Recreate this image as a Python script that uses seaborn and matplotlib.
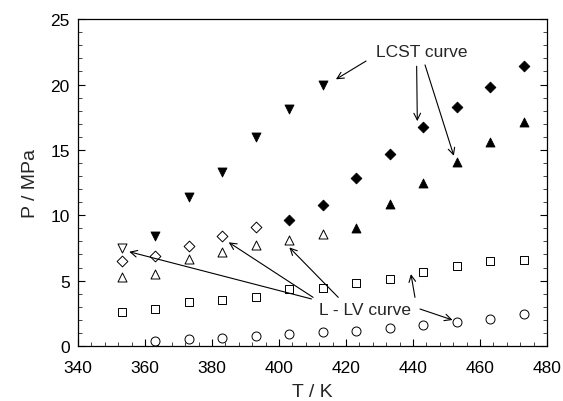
import matplotlib
matplotlib.use("Agg")
import matplotlib.pyplot as plt
import seaborn as sns
import pandas as pd
from matplotlib.ticker import MultipleLocator

sns.set_theme(style="ticks")
plt.rcParams['font.family'] = ['Liberation Sans', 'DejaVu Sans']

# LCST curves (filled markers)
lcst_down_T = [363, 373, 383, 393, 403, 413]
lcst_down_P = [8.45, 11.4, 13.3, 15.95, 18.1, 19.95]
lcst_diam_T = [403, 413, 423, 433, 443, 453, 463, 473]
lcst_diam_P = [9.66, 10.75, 12.85, 14.72, 16.77, 18.32, 19.85, 21.45]
lcst_up_T = [423, 433, 443, 453, 463, 473]
lcst_up_P = [9.02, 10.86, 12.44, 14.1, 15.57, 17.15]

# L-LV curves (open markers)
llv_down_T = [353]
llv_down_P = [7.47]
llv_diam_T = [353, 363, 373, 383, 393]
llv_diam_P = [6.47, 6.86, 7.67, 8.41, 9.07]
llv_up_T = [353, 363, 373, 383, 393, 403, 413]
llv_up_P = [5.3, 5.5, 6.65, 7.16, 7.72, 8.13, 8.56]
llv_sq_T = [353, 363, 373, 383, 393, 403, 413, 423, 433, 443, 453, 463, 473]
llv_sq_P = [2.62, 2.83, 3.39, 3.52, 3.72, 4.36, 4.43, 4.82, 5.12, 5.68, 6.09, 6.52, 6.55]
llv_circ_T = [363, 373, 383, 393, 403, 413, 423, 433, 443, 453, 463, 473]
llv_circ_P = [0.4, 0.54, 0.61, 0.79, 0.92, 1.05, 1.17, 1.35, 1.63, 1.81, 2.06, 2.45]

fig = plt.figure(figsize=(5.63, 4.02), dpi=100)
ax = fig.add_axes([0.1385, 0.1368, 0.833, 0.813])

series = [
    (lcst_down_T, lcst_down_P, "v", True, 42),
    (lcst_diam_T, lcst_diam_P, "D", True, 30),
    (lcst_up_T, lcst_up_P, "^", True, 42),
    (llv_down_T, llv_down_P, "v", False, 42),
    (llv_diam_T, llv_diam_P, "D", False, 30),
    (llv_up_T, llv_up_P, "^", False, 42),
    (llv_sq_T, llv_sq_P, "s", False, 36),
    (llv_circ_T, llv_circ_P, "o", False, 42),
]
for T, P, m, filled, s in series:
    df = pd.DataFrame({"T": T, "P": P})
    if filled:
        sns.scatterplot(data=df, x="T", y="P", marker=m, s=s, color="black",
                        edgecolor="black", linewidth=0.6, ax=ax, legend=False)
    else:
        sns.scatterplot(data=df, x="T", y="P", marker=m, s=s, facecolor="white",
                        edgecolor="black", linewidth=0.7, ax=ax, legend=False)

ax.set_xlim(340, 480)
ax.set_ylim(0, 25)
ax.xaxis.set_major_locator(MultipleLocator(20))
ax.xaxis.set_minor_locator(MultipleLocator(4))
ax.yaxis.set_major_locator(MultipleLocator(5))
ax.yaxis.set_minor_locator(MultipleLocator(1))
ax.tick_params(which="major", direction="in", length=5, width=0.8, labelsize=12.5,
               top=False, right=True, colors="black")
ax.tick_params(axis="x", which="major", pad=10)
ax.tick_params(axis="y", which="major", pad=6)
ax.tick_params(which="minor", direction="in", length=3, width=0.6, top=False, right=True)
for sp in ax.spines.values():
    sp.set_color("black")
    sp.set_linewidth(0.9)
ax.set_xlabel("T / K", fontsize=14, labelpad=6)
ax.set_ylabel("P / MPa", fontsize=14, labelpad=8)

arrowprops = dict(arrowstyle="->", color="black", lw=0.8, shrinkA=0, shrinkB=0)

ax.text(442.6, 22.5, "LCST curve", fontsize=12.5, ha="center", va="center")
ax.annotate("", xy=(417, 20.4), xytext=(426, 21.8), arrowprops=arrowprops)
ax.annotate("", xy=(441.3, 17.2), xytext=(441.1, 21.4), arrowprops=arrowprops)
ax.annotate("", xy=(452.2, 14.55), xytext=(443.6, 21.5), arrowprops=arrowprops)

ax.text(425.6, 2.83, "L - LV curve", fontsize=12.5, ha="center", va="center")
ax.annotate("", xy=(355.3, 7.21), xytext=(409.7, 3.6), arrowprops=arrowprops)
ax.annotate("", xy=(385, 7.93), xytext=(410.2, 3.72), arrowprops=arrowprops)
ax.annotate("", xy=(403.1, 7.54), xytext=(417.7, 3.72), arrowprops=arrowprops)
ax.annotate("", xy=(439.4, 5.5), xytext=(440.6, 3.72), arrowprops=arrowprops)
ax.annotate("", xy=(451.8, 1.99), xytext=(442.1, 2.83), arrowprops=arrowprops)

fig.savefig("out.png", dpi=100)
